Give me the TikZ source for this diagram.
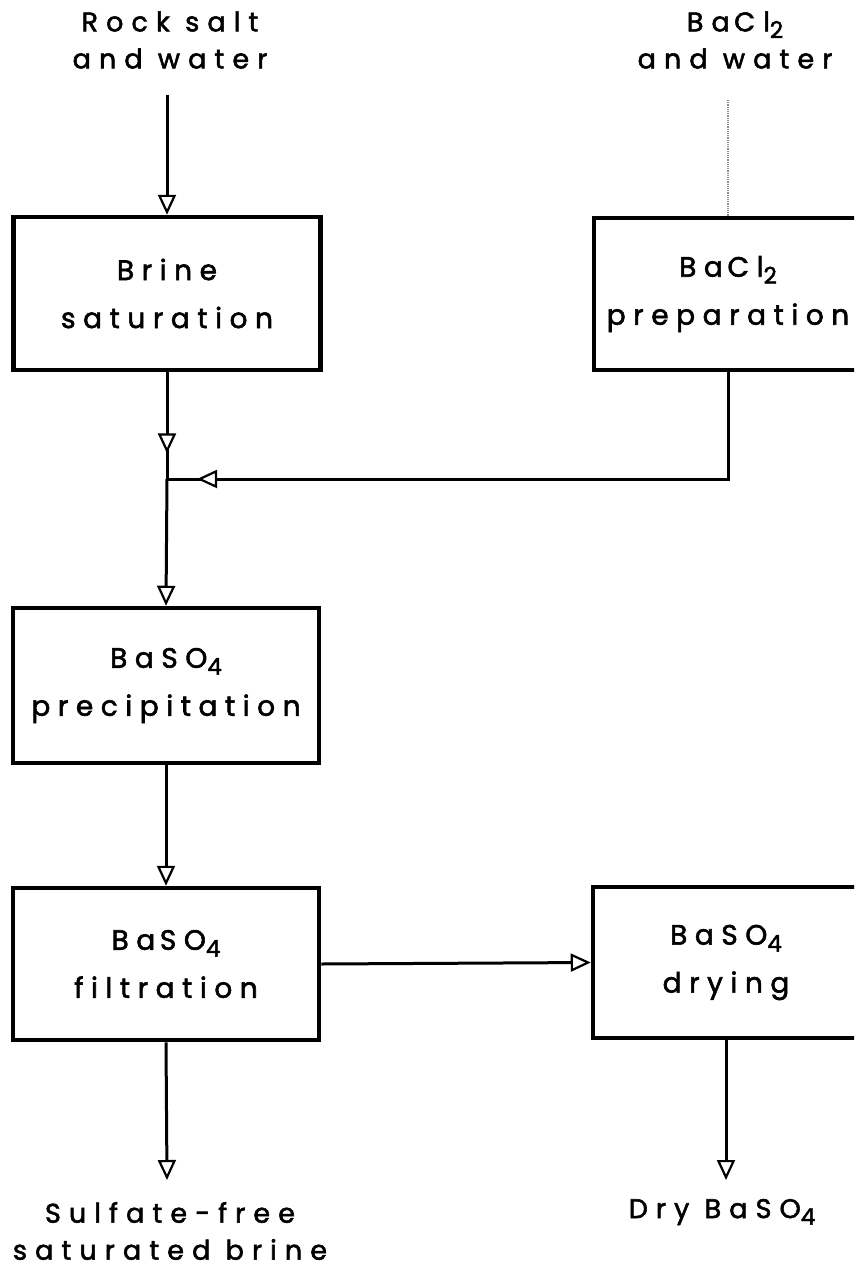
\documentclass[tikz,border=0pt]{standalone}
\usepackage{fontspec}
\setmainfont[LetterSpace=27,FakeBold=2]{Poppins}
\newfontfamily\lblfont[LetterSpace=30,FakeBold=2]{Poppins}
\usetikzlibrary{arrows.meta,decorations.markings}
\newcommand\dsub[1]{\raisebox{-0.45ex}{\fontsize{23}{23}\selectfont #1}}
\begin{document}
\begin{tikzpicture}[x=1pt,y=-1pt,
  box/.style={draw,line width=4.5pt,inner sep=0pt,align=center,font=\fontsize{28}{48}\selectfont},
  lbl/.style={align=center,inner sep=0pt,font=\lblfont\fontsize{27}{37}\selectfont},
  flow/.style={line width=3pt},
  faint/.style={line width=1.2pt,black!45,densely dotted},
  tipo/.style={-{Triangle[open,fill=white,length=20pt,width=18pt,line width=2.2pt]}},
  mid/.style={postaction={decorate,decoration={markings,mark=at position #1 with {\arrow[line width=2.2pt]{Triangle[open,fill=white,length=20pt,width=18pt]}}}}}
  ]
\useasboundingbox (0,0) rectangle (854,1271);
\clip (0,0) rectangle (854,1271);
% labels
\node[lbl] (rock) at (170,40) {Rock salt\\and water};
\node[lbl] (bacl) at (735,40) {Ba\,Cl\dsub{2}\\and water};
% boxes
\node[box,minimum width=307pt,minimum height=153pt] (brine) at (167,293.5) {Brine\\saturation};
\node[box,minimum width=268pt,minimum height=152pt] (prep) at (728,294) {Ba\,Cl\dsub{2}\\preparation};
\node[box,minimum width=306pt,minimum height=155pt] (prec) at (166,685.5) {BaSO\dsub{4}\\precipitation};
\node[box,minimum width=306pt,minimum height=152pt] (filt) at (166,964) {Ba\,SO\dsub{4}\\filtration};
\node[box,minimum width=266pt,minimum height=151pt] (dry) at (726,962.5) {BaSO\dsub{4}\\drying};
% output labels
\node[lbl] (sulf) at (170,1231) {Sulfate-free\\saturated brine};
\node[lbl] (drylbl) at (722,1212) {Dry BaSO\dsub{4}};
% coordinates
\coordinate (rs) at (167,95);
\coordinate (bs) at (728,100);
\coordinate (j) at (167,479);
\coordinate (e1) at (167,1180);
\coordinate (e2) at (726,1180);
% connectors
\draw[flow,tipo] (rs) -- (brine.north);
\draw[faint] (bs) -- (prep.north);
\draw[flow,mid=0.76] (brine.south) -- (j);
\draw[flow,mid=0.955] (prep.south) |- (j);
\draw[flow,tipo] (j) -- (prec.north);
\draw[flow,tipo] (prec.south) -- (filt.north);
\draw[flow,tipo] (filt.east) -- (dry.west);
\draw[flow,tipo] (filt.south) -- (e1);
\draw[flow,tipo] (dry.south) -- (e2);
\end{tikzpicture}
\end{document}
